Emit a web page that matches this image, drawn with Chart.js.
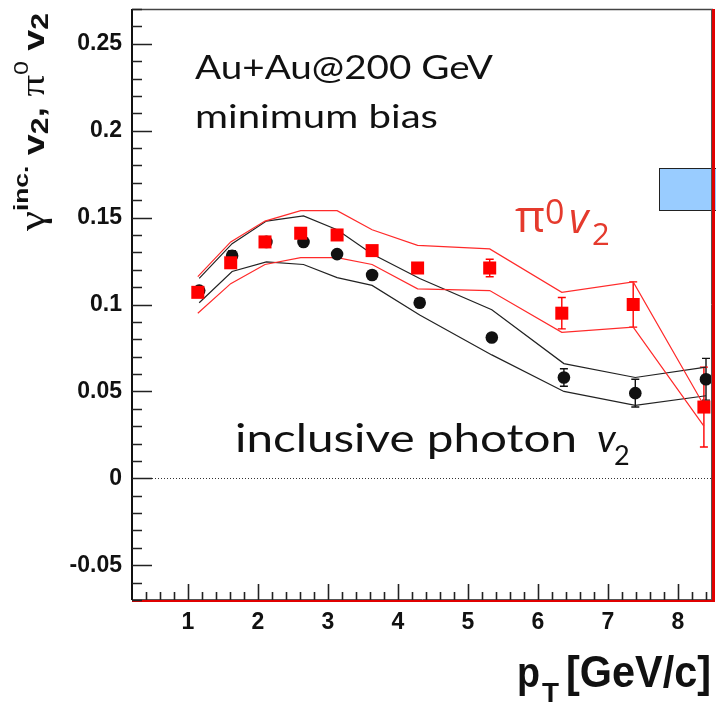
<!DOCTYPE html>
<html>
<head>
<meta charset="utf-8">
<script src="https://cdn.jsdelivr.net/npm/chart.js@4.4.0/dist/chart.umd.min.js"></script>
<style>
html, body { margin: 0; padding: 0; background: #fff; }
canvas { display: block; }
</style>
</head>
<body>
<canvas id="graficoV2" width="716" height="702"></canvas>
<script>
// pi0 v2 (quadrados vermelhos)
const ptPi0 = [1.14, 1.61, 2.10, 2.61, 3.13, 3.63, 4.28, 5.31, 6.34, 7.36, 8.37];
const v2Pi0 = [0.107, 0.124, 0.136, 0.141, 0.140, 0.131, 0.121, 0.121, 0.095, 0.100, 0.041];
const errPi0 = [0.002, 0.002, 0.002, 0.002, 0.002, 0.002, 0.002, 0.005, 0.009, 0.013, 0.023];
const sistPi0Alto = [0.116, 0.136, 0.148, 0.154, 0.154, 0.143, 0.134, 0.132, 0.107, 0.113, 0.042];
const sistPi0Baixo = [0.095, 0.112, 0.123, 0.127, 0.127, 0.123, 0.109, 0.108, 0.084, 0.087, 0.030];

// foton inclusivo v2 (circulos pretos)
const ptGama = [1.16, 1.63, 2.12, 2.65, 3.13, 3.63, 4.31, 5.34, 6.37, 7.39, 8.40];
const v2Gama = [0.108, 0.128, 0.136, 0.136, 0.129, 0.117, 0.101, 0.081, 0.058, 0.049, 0.057];
const errGama = [0.002, 0.003, 0.002, 0.002, 0.002, 0.002, 0.002, 0.002, 0.005, 0.008, 0.012];
const sistGamaAlto = [0.115, 0.135, 0.148, 0.151, 0.143, 0.129, 0.115, 0.097, 0.066, 0.058, 0.064];
const sistGamaBaixo = [0.101, 0.119, 0.1245, 0.123, 0.1155, 0.111, 0.094, 0.071, 0.050, 0.042, 0.0475];

const xTicks = [1, 2, 3, 4, 5, 6, 7, 8];
const xTickLabels = ['1', '2', '3', '4', '5', '6', '7', '8'];
const yTicks = [-0.05, 0, 0.05, 0.1, 0.15, 0.2, 0.25];
const yTickLabels = ['-0.05', '0', '0.05', '0.1', '0.15', '0.2', '0.25'];

// caixa azul no canto (x inicial, faixa em y)
const caixaX = 7.73;
const caixaY = [0.1545, 0.1785];

const VERMELHO = '#ff0000';
const PRETO = '#111111';

function pares(xs, ys) {
    return xs.map((x, i) => ({ x: x, y: ys[i] }));
}

function textoRico(ctx, partes, x, y, larguraAlvo, angulo) {
    let total = 0;
    partes.forEach(p => {
        ctx.font = p.font;
        p.w = ctx.measureText(p.t).width;
        total += p.w;
    });
    const s = larguraAlvo ? larguraAlvo / total : 1;
    ctx.save();
    ctx.translate(x, y);
    if (angulo) ctx.rotate(angulo);
    ctx.scale(s, 1);
    ctx.textAlign = 'left';
    ctx.textBaseline = 'alphabetic';
    let cx = 0;
    partes.forEach(p => {
        ctx.font = p.font;
        ctx.fillStyle = p.cor || PRETO;
        ctx.fillText(p.t, cx + (p.dx || 0), p.dy || 0);
        cx += p.w;
    });
    ctx.restore();
}

const barrasErro = {
    id: 'barrasErro',
    beforeDatasetsDraw(chart) {
        const { ctx, chartArea, scales: { x, y } } = chart;
        ctx.save();

        // linha pontilhada em zero
        ctx.strokeStyle = '#333';
        ctx.lineWidth = 1;
        ctx.setLineDash([1, 2]);
        ctx.beginPath();
        ctx.moveTo(chartArea.left + 20, Math.round(y.getPixelForValue(0)) + 0.5);
        ctx.lineTo(chartArea.right - 2, Math.round(y.getPixelForValue(0)) + 0.5);
        ctx.stroke();
        ctx.setLineDash([]);

        const series = [
            [ptGama, v2Gama, errGama, PRETO],
            [ptPi0, v2Pi0, errPi0, VERMELHO]
        ];
        series.forEach(([pts, vals, errs, cor]) => {
            ctx.strokeStyle = cor;
            ctx.lineWidth = 1.4;
            pts.forEach((pt, i) => {
                const px = x.getPixelForValue(pt);
                const y1 = y.getPixelForValue(vals[i] + errs[i]);
                const y2 = y.getPixelForValue(vals[i] - errs[i]);
                ctx.beginPath();
                ctx.moveTo(px, y1); ctx.lineTo(px, y2);
                ctx.moveTo(px - 4, y1); ctx.lineTo(px + 4, y1);
                ctx.moveTo(px - 4, y2); ctx.lineTo(px + 4, y2);
                ctx.stroke();
            });
        });
        ctx.restore();
    },
    afterDatasetsDraw(chart) {
        const { ctx, chartArea: a, scales: { x, y } } = chart;
        ctx.save();

        // caixa azul
        const bx = Math.round(x.getPixelForValue(caixaX));
        const by1 = Math.round(y.getPixelForValue(caixaY[1]));
        const by2 = Math.round(y.getPixelForValue(caixaY[0]));
        ctx.fillStyle = '#99ccff';
        ctx.fillRect(bx, by1, chart.width - bx + 2, by2 - by1);
        ctx.strokeStyle = '#222';
        ctx.lineWidth = 1;
        ctx.strokeRect(bx + 0.5, by1 + 0.5, chart.width - bx + 2, by2 - by1);

        // moldura
        ctx.strokeStyle = '#444';
        ctx.lineWidth = 1.5;
        ctx.beginPath();
        ctx.moveTo(a.left, a.top + 0.5); ctx.lineTo(a.right, a.top + 0.5);
        ctx.stroke();
        ctx.strokeStyle = '#555';
        ctx.lineWidth = 1;
        ctx.beginPath();
        ctx.moveTo(a.left, a.bottom - 0.5); ctx.lineTo(a.right, a.bottom - 0.5);
        ctx.moveTo(a.right - 1.5, a.top); ctx.lineTo(a.right - 1.5, a.bottom);
        ctx.stroke();
        ctx.strokeStyle = '#e00000';
        ctx.lineWidth = 2;
        ctx.beginPath();
        ctx.moveTo(a.left, a.bottom + 1); ctx.lineTo(a.right + 2, a.bottom + 1);
        ctx.stroke();
        ctx.lineWidth = 3;
        ctx.beginPath();
        ctx.moveTo(a.right + 0.5, a.top); ctx.lineTo(a.right + 0.5, a.bottom + 2);
        ctx.stroke();
        ctx.strokeStyle = '#111';
        ctx.lineWidth = 2;
        ctx.beginPath();
        ctx.moveTo(a.left, a.top); ctx.lineTo(a.left, a.bottom);
        ctx.stroke();

        // marcas dos eixos
        ctx.lineWidth = 1.6;
        ctx.strokeStyle = '#222';
        ctx.beginPath();
        for (let k = -7; k <= 27; k++) {
            const v = k / 100;
            const py = Math.round(y.getPixelForValue(v)) + 0.5;
            const len = (k % 5 === 0) ? 20 : 10;
            ctx.moveTo(a.left, py); ctx.lineTo(a.left + len, py);
        }
        for (let k = 2; k <= 42; k++) {
            const v = k / 5;
            const px = Math.round(x.getPixelForValue(v)) + 0.5;
            const len = (k % 5 === 0) ? 16 : 8;
            ctx.moveTo(px, a.bottom); ctx.lineTo(px, a.bottom - len);
        }
        ctx.stroke();

        // textos
        textoRico(ctx, [{ t: 'Au+Au@200 GeV', font: '32px Lato' }], 195, 79, 298);
        textoRico(ctx, [{ t: 'minimum bias', font: '32px Lato' }], 195, 128, 243);
        textoRico(ctx, [{ t: 'inclusive photon', font: '39px Lato' }], 235, 452, 342);
        textoRico(ctx, [{ t: 'v', font: 'italic 39px Lato' }], 597, 452);
        textoRico(ctx, [{ t: '2', font: '27px Lato' }], 614, 465);

        const corPi = '#e53a2d';
        textoRico(ctx, [{ t: 'π', font: '44px "Open Sans"', cor: corPi }], 515, 232, 30);
        textoRico(ctx, [{ t: '0', font: '34px "Open Sans"', cor: corPi }], 545, 224);
        textoRico(ctx, [{ t: 'v', font: 'italic 42px "Open Sans"', cor: corPi }], 569, 233);
        textoRico(ctx, [{ t: '2', font: '31px "Open Sans"', cor: corPi }], 592, 245);

        // titulo do eixo x
        textoRico(ctx, [{ t: 'p', font: 'bold 42px "Liberation Sans"' }], 517, 687, 23);
        textoRico(ctx, [{ t: 'T', font: 'bold 28px "Liberation Sans"' }], 542, 702, 17);
        textoRico(ctx, [{ t: '[GeV/c]', font: 'bold 44px "Liberation Sans"' }], 566, 687, 145);

        // titulo do eixo y
        textoRico(ctx, [
            { t: 'γ', font: '36px "Liberation Serif"' },
            { t: 'inc.', font: 'bold 21px "Liberation Sans"', dy: -16 },
            { t: ' v', font: 'bold 30px "Liberation Sans"' },
            { t: '2', font: 'bold 24px "Liberation Sans"', dy: 4 },
            { t: ', ', font: 'bold 30px "Liberation Sans"' },
            { t: 'π', font: '34px "Liberation Serif"' },
            { t: '0', font: '20px "Liberation Sans"', dy: -16 },
            { t: ' v', font: 'bold 30px "Liberation Sans"' },
            { t: '2', font: 'bold 24px "Liberation Sans"', dy: 4 }
        ], 44, 231, 218, -Math.PI / 2);

        ctx.restore();
    }
};

const fonteTicks = { family: '"Liberation Sans", Arial, sans-serif', weight: 'bold', size: 23 };

const ctx = document.getElementById('graficoV2').getContext('2d');
const grafico = new Chart(ctx, {
    type: 'scatter',
    data: {
        datasets: [
            {
                label: 'pi0 v2',
                data: pares(ptPi0, v2Pi0),
                pointStyle: 'rect',
                pointRadius: 9.2,
                backgroundColor: VERMELHO,
                borderWidth: 0,
                order: 0
            },
            {
                label: 'photon v2',
                data: pares(ptGama, v2Gama),
                pointStyle: 'circle',
                pointRadius: 6.3,
                backgroundColor: PRETO,
                borderWidth: 0,
                order: 1
            },
            {
                data: pares(ptPi0, sistPi0Alto),
                showLine: true, pointRadius: 0, borderColor: '#ff2a2a', borderWidth: 1.2, order: 2
            },
            {
                data: pares(ptPi0, sistPi0Baixo),
                showLine: true, pointRadius: 0, borderColor: '#ff2a2a', borderWidth: 1.2, order: 2
            },
            {
                data: pares(ptGama, sistGamaAlto),
                showLine: true, pointRadius: 0, borderColor: '#222', borderWidth: 1.2, order: 3
            },
            {
                data: pares(ptGama, sistGamaBaixo),
                showLine: true, pointRadius: 0, borderColor: '#222', borderWidth: 1.2, order: 3
            }
        ]
    },
    options: {
        responsive: false,
        animation: false,
        events: [],
        layout: { autoPadding: false, padding: { top: 9, right: 3, left: 0, bottom: 0 } },
        plugins: {
            legend: { display: false },
            tooltip: { enabled: false }
        },
        scales: {
            x: {
                type: 'linear',
                min: 0.2,
                max: 8.5,
                grid: { display: false, drawTicks: false },
                border: { display: false },
                afterBuildTicks: s => { s.ticks = xTicks.map(v => ({ value: v })); },
                afterFit: s => { s.height = 102; s.paddingLeft = 0; s.paddingRight = 0; },
                ticks: {
                    autoSkip: false,
                    maxRotation: 0,
                    padding: 9,
                    color: PRETO,
                    font: fonteTicks,
                    callback: (v, i) => xTickLabels[i]
                }
            },
            y: {
                type: 'linear',
                min: -0.07,
                max: 0.27,
                grid: { display: false, drawTicks: false },
                border: { display: false },
                afterBuildTicks: s => { s.ticks = yTicks.map(v => ({ value: v })); },
                afterFit: s => { s.width = 132; s.paddingTop = 0; s.paddingBottom = 0; },
                ticks: {
                    autoSkip: false,
                    padding: 10,
                    color: PRETO,
                    font: fonteTicks,
                    callback: (v, i) => yTickLabels[i]
                }
            }
        }
    },
    plugins: [barrasErro]
});
</script>
</body>
</html>
